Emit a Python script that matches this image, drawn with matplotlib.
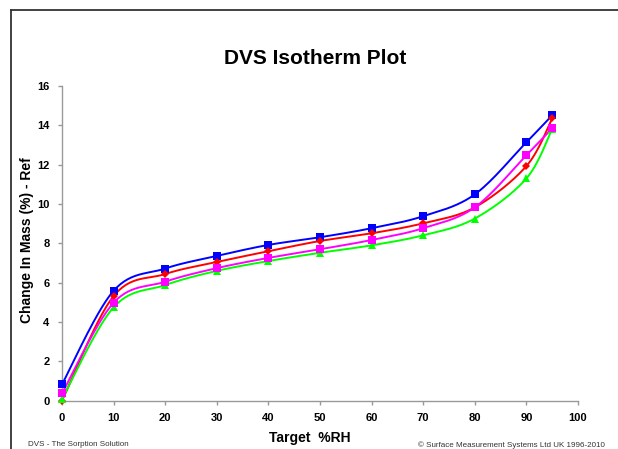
import numpy as np
import matplotlib
matplotlib.use("Agg")
import matplotlib.pyplot as plt
from matplotlib.lines import Line2D

rh = [0, 10, 20, 30, 40, 50, 60, 70, 80, 90, 95]
blue = [0.83, 5.59, 6.72, 7.36, 7.92, 8.31, 8.77, 9.38, 10.49, 13.14, 14.51]
red = [0.0, 5.32, 6.44, 7.05, 7.60, 8.12, 8.51, 9.02, 9.83, 11.93, 14.35]
green = [0.08, 4.75, 5.88, 6.60, 7.10, 7.52, 7.90, 8.41, 9.26, 11.30, 13.82]
magenta = [0.37, 4.98, 6.05, 6.74, 7.26, 7.70, 8.17, 8.77, 9.83, 12.48, 13.85]

xticks = [0, 10, 20, 30, 40, 50, 60, 70, 80, 90, 100]
yticks = [0, 2, 4, 6, 8, 10, 12, 14, 16]

title = "DVS Isotherm Plot"
xlabel = "Target  %RH"
ylabel = "Change In Mass (%) - Ref"
footer_left = "DVS - The Sorption Solution"
footer_right = "\u00a9 Surface Measurement Systems Ltd UK 1996-2010"


def smooth(xs, ys, n=30):
    xs = np.asarray(xs, float)
    ys = np.asarray(ys, float)
    P = np.column_stack([xs, ys])
    out = []
    for i in range(len(P) - 1):
        p0 = P[i - 1] if i > 0 else P[i]
        p1 = P[i]
        p2 = P[i + 1]
        p3 = P[i + 2] if i + 2 < len(P) else P[i + 1]
        c1 = p1 + (p2 - p0) / 6.0
        c2 = p2 - (p3 - p1) / 6.0
        t = np.linspace(0, 1, n)[:, None]
        seg = ((1 - t) ** 3) * p1 + 3 * ((1 - t) ** 2) * t * c1 + 3 * (1 - t) * t ** 2 * c2 + t ** 3 * p2
        out.append(seg if i == 0 else seg[1:])
    c = np.vstack(out)
    return c[:, 0], c[:, 1]


plt.rcParams['font.family'] = ['Liberation Sans', 'DejaVu Sans']

fig = plt.figure(figsize=(6.18, 4.49), dpi=100)
fig.patch.set_facecolor('white')

# slide frame (top and left edges)
fig.add_artist(Line2D([10.5 / 618, 10.5 / 618], [0, 1 - 10 / 449], transform=fig.transFigure,
                      color='#333333', lw=1.3))
fig.add_artist(Line2D([10.5 / 618, 1], [1 - 10 / 449, 1 - 10 / 449], transform=fig.transFigure,
                      color='#333333', lw=1.3))

ax = fig.add_axes([62 / 618, 1 - 400.7 / 449, (578 - 62) / 618, (400.7 - 86) / 449])

series = [
    (blue, '#0000FF', 's', 5.6),
    (red, '#FF0000', 'D', 4.2),
    (green, '#00FF00', '^', 5.2),
    (magenta, '#FF00FF', 's', 5.6),
]
for ys, col, mk, ms in series:
    sx, sy = smooth(rh, ys)
    ax.plot(sx, sy, color=col, lw=1.4, zorder=3, clip_on=False)
    ax.plot(rh, ys, linestyle='none', marker=mk, color=col, markersize=ms,
            markeredgewidth=0, zorder=4, clip_on=False)

ax.set_xlim(0, 100)
ax.set_ylim(0, 16)
ax.set_xticks(xticks)
ax.set_yticks(yticks)
for s in ['top', 'right']:
    ax.spines[s].set_visible(False)
for s in ['left', 'bottom']:
    ax.spines[s].set_color('#999999')
    ax.spines[s].set_linewidth(1.0)
ax.tick_params(axis='both', direction='out', length=3, width=1.0, color='#999999',
               labelsize=8, pad=6)
for lab in ax.get_xticklabels() + ax.get_yticklabels():
    lab.set_fontweight('bold')

fig.text(315 / 618, 1 - 58 / 449, title, ha='center', va='center', fontsize=15, fontweight='bold')
fig.text(310 / 618, 1 - 438 / 449, xlabel, ha='center', va='center', fontsize=10, fontweight='bold')
fig.text(27 / 618, 1 - 240 / 449, ylabel, ha='center', va='center', fontsize=10,
         fontweight='bold', rotation=90)
fig.text(28 / 618, 1 - 445 / 449, footer_left, ha='left', va='center', fontsize=5.8, color='#333333')
fig.text(605 / 618, 1 - 445 / 449, footer_right, ha='right', va='center', fontsize=5.8, color='#333333')

fig.savefig('out.png', dpi=100)
